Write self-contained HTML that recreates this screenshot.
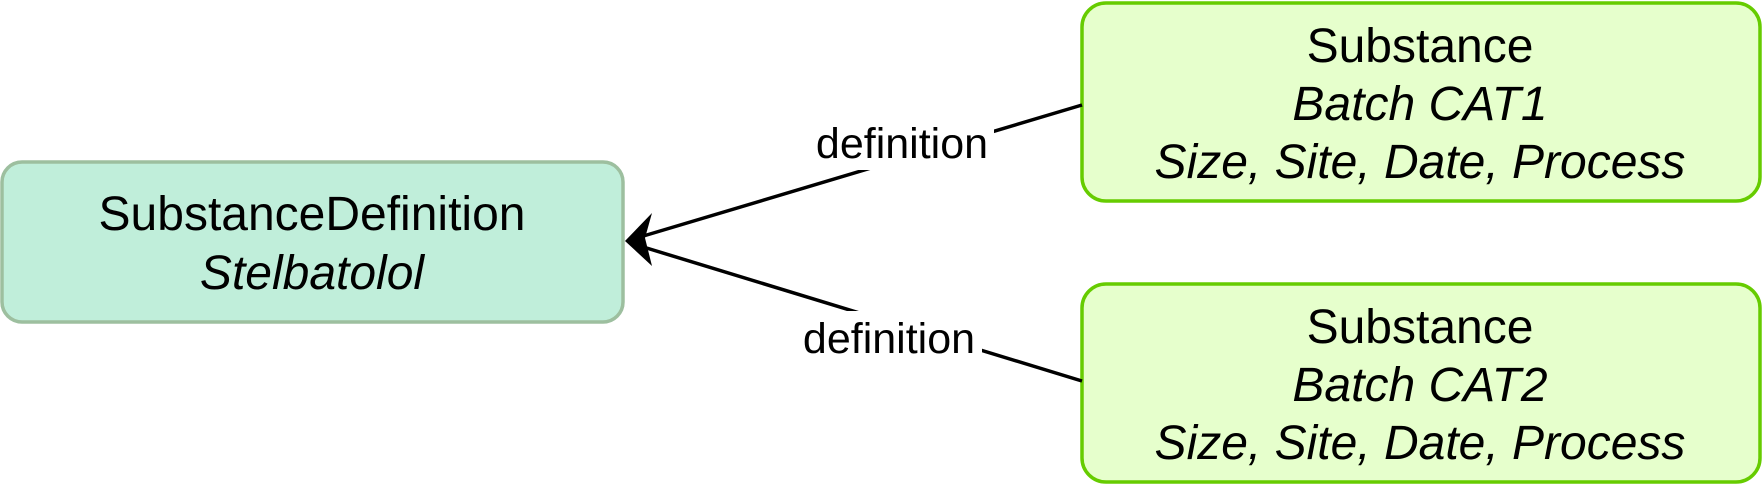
<!DOCTYPE html>
<html><head><meta charset="utf-8"><style>
html,body{margin:0;padding:0;background:#fff;}
svg{display:block;}
text{font-family:"Liberation Sans",Arial,sans-serif;font-size:48px;fill:#000;}
.l{font-size:43px;}
.i{font-style:italic;}
</style></head><body>
<svg width="1764" height="484" viewBox="0 0 1764 484" xmlns="http://www.w3.org/2000/svg">
<rect x="2" y="162" width="621" height="160" rx="20" fill="#c0eeda" stroke="#9dbf9f" stroke-width="3.5"/>
<rect x="1082" y="3" width="678" height="198" rx="24" fill="#e6ffcc" stroke="#66cc00" stroke-width="3.5"/>
<rect x="1082" y="284" width="678" height="198" rx="24" fill="#e6ffcc" stroke="#66cc00" stroke-width="3.5"/>
<line x1="1082" y1="105" x2="640" y2="237" stroke="#000" stroke-width="3.5"/>
<line x1="1082" y1="381" x2="640" y2="246" stroke="#000" stroke-width="3.5"/>
<path d="M625 241 L652 213 L645 238 L652 266 Z" fill="#000"/>
<rect x="810" y="116" width="184" height="54" fill="#fff"/>
<rect x="798" y="311" width="184" height="54" fill="#fff"/>
<text x="902" y="158" text-anchor="middle" class="l">definition</text>
<text x="889" y="353" text-anchor="middle" class="l">definition</text>
<text x="312" y="230" text-anchor="middle">SubstanceDefinition</text>
<text x="312" y="289" text-anchor="middle" class="i">Stelbatolol</text>
<text x="1420" y="62" text-anchor="middle">Substance</text>
<text x="1420" y="120" text-anchor="middle" class="i">Batch CAT1</text>
<text x="1420" y="178" text-anchor="middle" class="i">Size, Site, Date, Process</text>
<text x="1420" y="343" text-anchor="middle">Substance</text>
<text x="1420" y="401" text-anchor="middle" class="i">Batch CAT2</text>
<text x="1420" y="459" text-anchor="middle" class="i">Size, Site, Date, Process</text>
</svg>
</body></html>
